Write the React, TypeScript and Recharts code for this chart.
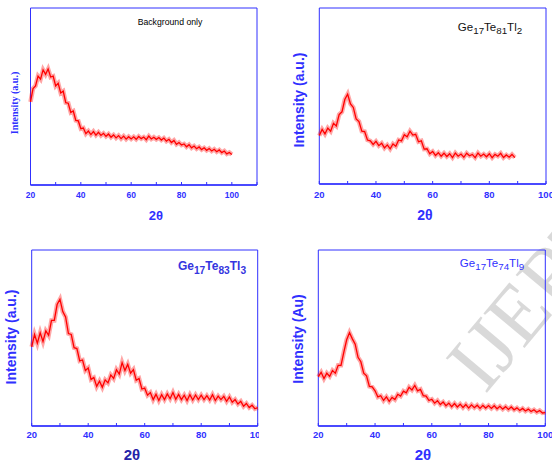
import { LineChart, Line, XAxis, YAxis, ReferenceArea } from 'recharts';

const BLUE = '#3030ff';
const RED = '#ff0000';
const SANS = '"Liberation Sans", Arial, sans-serif';
const SERIF = '"Liberation Serif", "Times New Roman", serif';

// every series starts at 2θ = 20° and is read at 1° steps
const bgIntensity = [
  470, 545, 560, 615, 598, 650, 625, 655, 610, 615,
  560, 575, 520, 530, 465, 462, 410, 418, 365, 362,
  318, 322, 290, 305, 285, 302, 282, 298, 280, 292,
  275, 288, 270, 283, 266, 279, 262, 276, 259, 273,
  260, 272, 258, 274, 262, 271, 256, 276, 260, 270,
  258, 268, 254, 265, 248, 258, 240, 252, 230, 240,
  226, 232, 216, 228, 210, 220, 205, 215, 200, 210,
  196, 206, 192, 202, 188, 198, 183, 192, 176, 184,
  172,
];

const tl2Intensity = [
  275, 310, 285, 318, 300, 345, 330, 395, 410, 480,
  510, 455, 435, 370, 355, 300, 298, 250, 245, 225,
  242, 218, 232, 205, 222, 200, 228, 215, 250, 245,
  280, 268, 300, 278, 282, 240, 245, 198, 200, 172,
  185, 162, 178, 158, 175, 156, 172, 150, 176, 158,
  170, 152, 175, 160, 168, 150, 176, 158, 170, 155,
  172, 150, 168, 158, 174, 150, 165, 152, 168, 150,
];

const tl3Intensity = [
  450, 520, 470, 530, 480, 540, 515, 600, 600, 690,
  720, 650, 620, 525, 520, 445, 440, 370, 375, 315,
  330, 265, 275, 225, 255, 220, 262, 245, 290, 270,
  320, 295, 360, 315, 350, 300, 320, 260, 270, 210,
  215, 175, 190, 150, 180, 145, 178, 150, 182, 155,
  190, 152, 180, 150, 175, 145, 178, 148, 176, 150,
  175, 150, 172, 148, 178, 145, 170, 150, 168, 140,
  165, 135, 150, 125, 140, 112, 128, 105, 118, 98,
  104,
];

const tl9Intensity = [
  280, 305, 270, 300, 282, 315, 300, 345, 345, 420,
  490, 530, 495, 465, 390, 365, 300, 285, 225, 222,
  200, 165, 172, 145, 165, 140, 162, 150, 180, 170,
  198, 188, 220, 205, 230, 200, 208, 172, 170, 145,
  152, 130, 144, 122, 136, 115, 130, 110, 128, 108,
  124, 105, 122, 102, 120, 104, 118, 100, 117, 102,
  116, 100, 115, 98, 112, 96, 110, 94, 108, 92,
  103, 88, 100, 85, 96, 82, 92, 78, 88, 74,
  76,
];

const ticksTo100 = [20, 30, 40, 50, 60, 70, 80, 90, 100];
const ticksTo110 = [20, 30, 40, 50, 60, 70, 80, 90, 100, 110];
const labelledTicks = [20, 40, 60, 80, 100];

const toRows = (values: number[]) => values.map((v, i) => ({ a: 20 + i, v }));

const AXIS_H = 20;

interface PanelProps {
  left: number;
  top: number;
  width: number;
  height: number;
  margin: { top: number; right: number; bottom: number; left: number };
  values: number[];
  xMax: number;
  ticks: number[];
  tickFont: number;
  tickDy: number;
}

function Panel({ left, top, width, height, margin, values, xMax, ticks, tickFont, tickDy }: PanelProps) {
  const data = toRows(values);
  const renderTick = (p: any) => {
    // p.y sits at the axis line because tickSize and tickMargin are 0
    const { x, y, payload } = p;
    return (
      <g key={`t-${payload.value}`}>
        <line x1={x} y1={y} x2={x} y2={y - 3} stroke={BLUE} strokeWidth={1} />
        {labelledTicks.includes(payload.value) && (
          <text x={x} y={y + tickDy} textAnchor="middle" fill={BLUE} fontSize={tickFont} fontWeight="bold" fontFamily={SANS}>
            {payload.value}
          </text>
        )}
      </g>
    );
  };
  return (
    <div style={{ position: 'absolute', left, top }}>
      <LineChart width={width} height={height} data={data} margin={{ ...margin, bottom: margin.bottom - AXIS_H }}>
        <XAxis
          dataKey="a"
          type="number"
          domain={[20, xMax]}
          ticks={ticks}
          height={AXIS_H}
          tickSize={0}
          tickMargin={0}
          interval={0}
          axisLine={{ stroke: BLUE, strokeWidth: 1.6 }}
          tickLine={false}
          tick={renderTick}
        />
        <YAxis domain={[0, 1000]} width={0} tick={false} tickLine={false} axisLine={{ stroke: BLUE, strokeWidth: 1.3 }} />
        <ReferenceArea x1={20} x2={xMax} y1={0} y2={1000} fill="none" stroke={BLUE} strokeWidth={1} />
        <Line dataKey="v" stroke={RED} strokeOpacity={0.35} strokeWidth={4.5} dot={false} isAnimationActive={false} />
        <Line dataKey="v" stroke={RED} strokeWidth={1.3} dot={false} isAnimationActive={false} />
      </LineChart>
    </div>
  );
}

function Txt({ x, y, rotate, style, children }: any) {
  return (
    <div
      style={{
        position: 'absolute',
        left: x,
        top: y,
        transform: `translate(-50%, -50%)${rotate ? ' rotate(-90deg)' : ''}`,
        whiteSpace: 'nowrap',
        lineHeight: 1,
        ...style,
      }}
    >
      {children}
    </div>
  );
}

const sub = { fontSize: '0.85em', verticalAlign: '-0.35em' };

export default function App() {
  return (
    <div style={{ position: 'absolute', left: 0, top: 0, width: 552, height: 463, background: '#fff', overflow: 'hidden' }}>
      {/* faint journal watermark behind the lower-right panel */}
      <svg width={552} height={463} style={{ position: 'absolute', left: 0, top: 0 }}>
        <text x={485} y={395} transform="rotate(-50 485 395)" fontFamily={SERIF} fontSize={82} fill="#d2d2d2" fillOpacity={0.85}>
          IJERT
        </text>
      </svg>

      <Panel left={0} top={0} width={276} height={230} margin={{ top: 8, right: 19, bottom: 45, left: 30.5 }}
        values={bgIntensity} xMax={110} ticks={ticksTo110} tickFont={8.5} tickDy={13} />
      <Panel left={276} top={0} width={276} height={230} margin={{ top: 8, right: 6, bottom: 46, left: 43.3 }}
        values={tl2Intensity} xMax={100} ticks={ticksTo100} tickFont={9.5} tickDy={14} />
      <Panel left={0} top={231} width={259} height={232} margin={{ top: 19, right: 1.3, bottom: 37, left: 31.7 }}
        values={tl3Intensity} xMax={100} ticks={ticksTo100} tickFont={9.5} tickDy={11.5} />
      <Panel left={276} top={231} width={276} height={232} margin={{ top: 19, right: 6.7, bottom: 37, left: 42.3 }}
        values={tl9Intensity} xMax={100} ticks={ticksTo100} tickFont={9.5} tickDy={11.5} />

      {/* panel 1 */}
      <Txt x={170} y={22} style={{ fontFamily: SANS, fontSize: 8.7, color: '#000' }}>Background only</Txt>
      <Txt x={15} y={103} rotate style={{ fontFamily: SERIF, fontSize: 10, fontWeight: 'bold', color: BLUE }}>Intensity (a.u.)</Txt>
      <Txt x={156} y={215} style={{ fontFamily: SANS, fontSize: 13, fontWeight: 'bold', color: BLUE }}>2θ</Txt>

      {/* panel 2 */}
      <Txt x={490} y={29} style={{ fontFamily: SANS, fontSize: 11.5, color: '#111' }}>
        Ge<span style={sub}>17</span>Te<span style={sub}>81</span>Tl<span style={sub}>2</span>
      </Txt>
      <Txt x={299} y={100} rotate style={{ fontFamily: SANS, fontSize: 14, fontWeight: 'bold', color: BLUE }}>Intensity (a.u.)</Txt>
      <Txt x={425} y={215} style={{ fontFamily: SANS, fontSize: 14, fontWeight: 'bold', color: BLUE }}>2θ</Txt>

      {/* panel 3 */}
      <Txt x={212} y={268} style={{ fontFamily: SANS, fontSize: 12, fontWeight: 'bold', color: '#3535e0' }}>
        Ge<span style={sub}>17</span>Te<span style={sub}>83</span>Tl<span style={sub}>3</span>
      </Txt>
      <Txt x={10.5} y={337} rotate style={{ fontFamily: SANS, fontSize: 14, fontWeight: 'bold', color: BLUE }}>Intensity (a.u.)</Txt>
      <Txt x={132} y={454} style={{ fontFamily: SANS, fontSize: 15, fontWeight: 'bold', color: '#2424a8' }}>2θ</Txt>

      {/* panel 4 */}
      <Txt x={492} y={265} style={{ fontFamily: SANS, fontSize: 11.5, color: BLUE }}>
        Ge<span style={sub}>17</span>Te<span style={sub}>74</span>Tl<span style={sub}>9</span>
      </Txt>
      <Txt x={297.5} y={339} rotate style={{ fontFamily: SANS, fontSize: 14, fontWeight: 'bold', color: BLUE }}>Intensity (Au)</Txt>
      <Txt x={423} y={454} style={{ fontFamily: SANS, fontSize: 15, fontWeight: 'bold', color: BLUE }}>2θ</Txt>
    </div>
  );
}
